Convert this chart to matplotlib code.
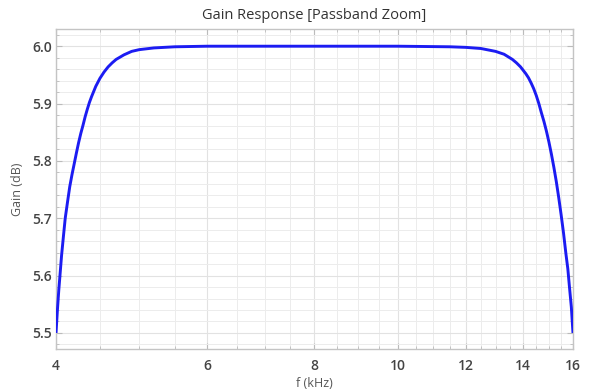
import numpy as np
import matplotlib
matplotlib.use("Agg")
import matplotlib.pyplot as plt
from matplotlib.ticker import FixedLocator, FixedFormatter, NullFormatter

# values
freq_khz = [4.000, 4.015, 4.030, 4.045, 4.060, 4.080, 4.100, 4.125, 4.150, 4.175,
            4.200, 4.225, 4.250, 4.275, 4.300, 4.325, 4.350, 4.375, 4.400, 4.450,
            4.500, 4.550, 4.600, 4.650, 4.700, 4.750, 4.800, 4.900, 5.000, 5.200,
            5.500, 6.000, 8.000, 10.00, 11.50, 12.00, 12.50, 13.00, 13.30, 13.60,
            13.75, 13.90, 14.00, 14.10, 14.20, 14.30, 14.40, 14.50, 14.60, 14.70,
            14.80, 14.90, 15.00, 15.10, 15.20, 15.30, 15.40, 15.50, 15.60, 15.70,
            15.78, 15.85, 15.93, 16.00]
gain_db = [5.500, 5.540, 5.575, 5.605, 5.635, 5.668, 5.700, 5.728, 5.755, 5.776,
           5.795, 5.814, 5.832, 5.848, 5.862, 5.877, 5.890, 5.902, 5.912, 5.930,
           5.944, 5.955, 5.964, 5.971, 5.977, 5.981, 5.985, 5.991, 5.994, 5.997,
           5.999, 6.000, 6.000, 6.000, 5.999, 5.998, 5.996, 5.991, 5.986, 5.977,
           5.971, 5.964, 5.958, 5.952, 5.945, 5.936, 5.926, 5.914, 5.900, 5.884,
           5.869, 5.852, 5.833, 5.812, 5.789, 5.764, 5.736, 5.706, 5.674, 5.638,
           5.612, 5.580, 5.545, 5.500]

x_major = [4, 6, 8, 10, 12, 14, 16]
x_labels = ["4", "6", "8", "10", "12", "14", "16"]
y_major = [5.5, 5.6, 5.7, 5.8, 5.9, 6.0]
y_labels = ["5.5", "5.6", "5.7", "5.8", "5.9", "6.0"]

plt.rcParams['font.family'] = ['Open Sans', 'DejaVu Sans']

fig = plt.figure(figsize=(5.89, 3.92), dpi=100)
ax = fig.add_axes([0.0951, 0.1097, 0.8777, 0.8163])

ax.plot(freq_khz, gain_db, color='#1c1cf2', lw=2.1, solid_capstyle='butt',
        solid_joinstyle='round', zorder=3)

ax.set_xscale('log', base=2)
ax.set_xlim(4, 16)
ax.set_ylim(5.472, 6.030)

ax.xaxis.set_major_locator(FixedLocator(x_major))
ax.xaxis.set_major_formatter(FixedFormatter(x_labels))
ax.xaxis.set_minor_locator(FixedLocator(list(np.arange(4.5, 16, 0.5))))
ax.xaxis.set_minor_formatter(NullFormatter())
ax.yaxis.set_major_locator(FixedLocator(y_major))
ax.yaxis.set_major_formatter(FixedFormatter(y_labels))
ax.yaxis.set_minor_locator(FixedLocator(list(np.arange(5.48, 6.03, 0.02))))

ax.grid(which='major', color='#e2e2e2', lw=0.8)
ax.grid(which='minor', color='#ececec', lw=0.7)

for s in ax.spines.values():
    s.set_color('#c4c4c4')
    s.set_linewidth(1.0)

ax.tick_params(which='both', direction='in', top=True, right=True, colors='#bbbbbb',
               labelcolor='#444444')
ax.tick_params(which='major', length=4, width=0.8, labelsize=10)
ax.tick_params(axis='x', which='major', pad=7)
ax.tick_params(axis='y', which='major', pad=3)
ax.tick_params(which='minor', length=2, width=0.6)
for lab in ax.get_xticklabels() + ax.get_yticklabels():
    lab.set_fontweight('semibold')

ax.set_title("Gain Response [Passband Zoom]", fontsize=10.5, color='#333333', pad=7)
ax.set_xlabel("f (kHz)", fontsize=9, color='#555555', labelpad=3)
ax.set_ylabel("Gain (dB)", fontsize=9, color='#555555', labelpad=6)

fig.savefig("out.png", dpi=100)
